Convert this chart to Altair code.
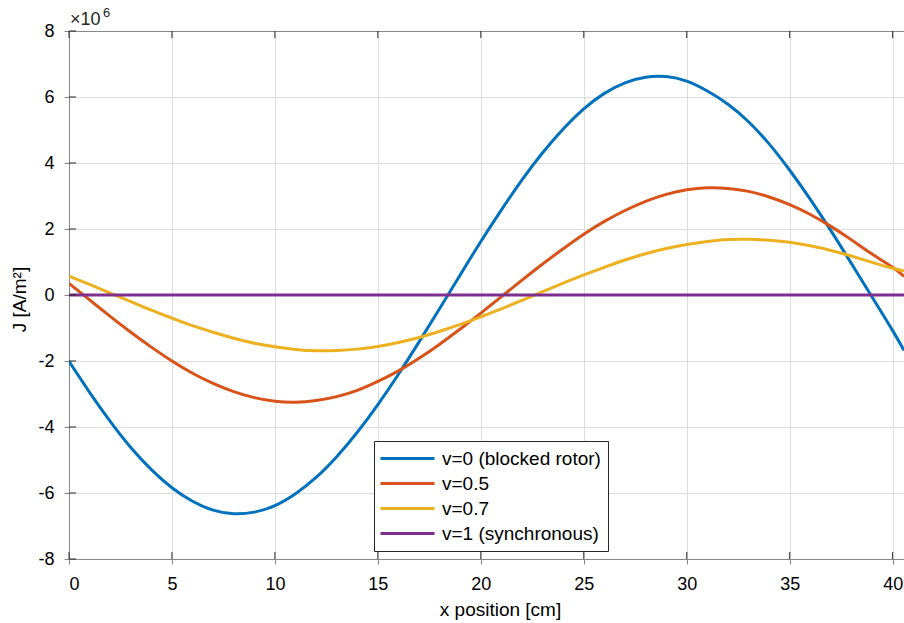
import altair as alt
import pandas as pd

# ---- data (J in units of 1e6 A/m^2) ----
x_cm = [0, 1, 2, 3, 4, 5, 6, 7, 8, 9, 10, 11, 12, 13, 14, 15, 16, 17, 18, 19, 20,
        21, 22, 23, 24, 25, 26, 27, 28, 29, 30, 31, 32, 33, 34, 35, 36, 37, 38, 39, 40, 40.55]

j_blocked = [-2.01, -2.95, -3.83, -4.62, -5.29, -5.84, -6.25, -6.52, -6.63, -6.58, -6.38,
             -6.02, -5.53, -4.90, -4.16, -3.32, -2.40, -1.42, -0.41, 0.61, 1.62,
             2.58, 3.49, 4.31, 5.03, 5.64, 6.11, 6.43, 6.60, 6.62, 6.48,
             6.18, 5.78, 5.25, 4.58, 3.78, 2.90, 1.95, 0.95, -0.06, -1.08, -1.68]

j_v05 = [0.35, -0.15, -0.65, -1.13, -1.58, -2.00, -2.37, -2.68, -2.93, -3.11, -3.22,
         -3.25, -3.20, -3.08, -2.89, -2.62, -2.30, -1.92, -1.49, -1.03, -0.55,
         -0.05, 0.45, 0.94, 1.40, 1.84, 2.23, 2.56, 2.84, 3.05, 3.19,
         3.25, 3.23, 3.14, 2.97, 2.74, 2.44, 2.08, 1.67, 1.24, 0.84, 0.56]

j_v07 = [0.57, 0.32, 0.06, -0.20, -0.46, -0.70, -0.93, -1.13, -1.31, -1.46, -1.57,
         -1.65, -1.69, -1.68, -1.64, -1.56, -1.44, -1.29, -1.10, -0.89, -0.66,
         -0.42, -0.16, 0.10, 0.36, 0.61, 0.84, 1.06, 1.25, 1.41, 1.53,
         1.62, 1.68, 1.69, 1.66, 1.60, 1.49, 1.35, 1.18, 0.99, 0.81, 0.73]

j_sync = [0, 0, 0, 0, 0, 0, 0, 0, 0, 0, 0, 0, 0, 0, 0, 0, 0, 0, 0, 0, 0,
          0, 0, 0, 0, 0, 0, 0, 0, 0, 0, 0, 0, 0, 0, 0, 0, 0, 0, 0, 0, 0]

series_names = ["v=0 (blocked rotor)", "v=0.5", "v=0.7", "v=1 (synchronous)"]
series_colors = ["#0072BD", "#D95319", "#EDB120", "#7E2F8E"]

x_ticks = [0, 5, 10, 15, 20, 25, 30, 35, 40]
y_ticks = [-8, -6, -4, -2, 0, 2, 4, 6, 8]

# ---- build tables ----
rows = []
for k, (name, vals) in enumerate(zip(series_names, [j_blocked, j_v05, j_v07, j_sync])):
    for xv, yv in zip(x_cm, vals):
        rows.append({"x": xv, "J": yv, "series": name, "k": k})
df = pd.DataFrame(rows)
df_xt = pd.DataFrame({"x": x_ticks})
df_yt = pd.DataFrame({"J": y_ticks})

W, H = 835, 528
FONT = "Liberation Sans"
AX = "#262626"

x_scale = alt.Scale(domain=[0, 40.55], nice=False, zero=False)
y_scale = alt.Scale(domain=[-8, 8], nice=False, zero=False)

y_axis = alt.Axis(values=y_ticks, title="J [A/m²]", grid=True, orient="left",
                  labelExpr="'' + datum.value", labelFontSize=18,
                  labelPadding=10, titleFontSize=19, titlePadding=8,
                  titleFontWeight="normal", titleY=268)

lines = alt.Chart(df).mark_line(strokeWidth=3, interpolate="natural", clip=True).encode(
    x=alt.X("x:Q", scale=x_scale,
            axis=alt.Axis(values=x_ticks, title="x position [cm]", grid=True, orient="bottom",
                          labelExpr="'' + datum.value", labelFontSize=18,
                          labelPadding=11, titleFontSize=19, titlePadding=7,
                          titleX=431, titleFontWeight="normal")),
    y=alt.Y("J:Q", scale=y_scale, axis=y_axis),
    color=alt.Color("series:N",
                    scale=alt.Scale(domain=series_names, range=series_colors),
                    legend=alt.Legend(orient="none", legendX=305, legendY=410, title=None,
                                      symbolType="M-3,0H3", symbolSize=324,
                                      symbolOffset=16, symbolStrokeWidth=3,
                                      labelFontSize=19, labelFont=FONT,
                                      labelColor="#000000", labelOffset=24,
                                      strokeColor=AX, fillColor="white",
                                      padding=7, rowPadding=4)),
    order=alt.Order("k:Q"),
)

bottom_ticks = alt.Chart(df_xt).mark_rule(color=AX, strokeWidth=1).encode(
    x=alt.X("x:Q", scale=x_scale, axis=None),
    y=alt.value(H), y2=alt.value(H - 7),
)
top_ticks = alt.Chart(df_xt).mark_rule(color=AX, strokeWidth=1).encode(
    x=alt.X("x:Q", scale=x_scale,
            axis=alt.Axis(orient="top", labels=False, ticks=False, grid=False,
                          domain=True, title=None)),
    y=alt.value(0), y2=alt.value(7),
)
left_ticks = alt.Chart(df_yt).mark_rule(color=AX, strokeWidth=1).encode(
    y=alt.Y("J:Q", scale=y_scale, axis=y_axis),
    x=alt.value(0), x2=alt.value(7),
)

exp_base = alt.Chart(pd.DataFrame({"t": ["×10"]})).mark_text(
    align="left", baseline="alphabetic", font=FONT, fontSize=18, color=AX
).encode(text="t:N", x=alt.value(1), y=alt.value(-6))
exp_pow = alt.Chart(pd.DataFrame({"t": ["6"]})).mark_text(
    align="left", baseline="alphabetic", font=FONT, fontSize=13, color=AX
).encode(text="t:N", x=alt.value(34), y=alt.value(-14))

chart = alt.layer(lines, left_ticks, bottom_ticks, top_ticks, exp_base, exp_pow).properties(
    width=W, height=H,
    autosize=alt.AutoSizeParams(type="none"),
    padding={"left": 69, "top": 31, "right": 0, "bottom": 64},
).resolve_axis(x="independent").configure_view(
    strokeWidth=0
).configure_axis(
    gridColor="#e3e3e3", domainColor=AX, domainWidth=1, tickSize=0,
    labelColor=AX, titleColor=AX, labelFont=FONT, titleFont=FONT,
    titleFontWeight="normal",
).configure(background="white")

chart.save("out.html", embed_options={"renderer": "svg", "actions": False})
